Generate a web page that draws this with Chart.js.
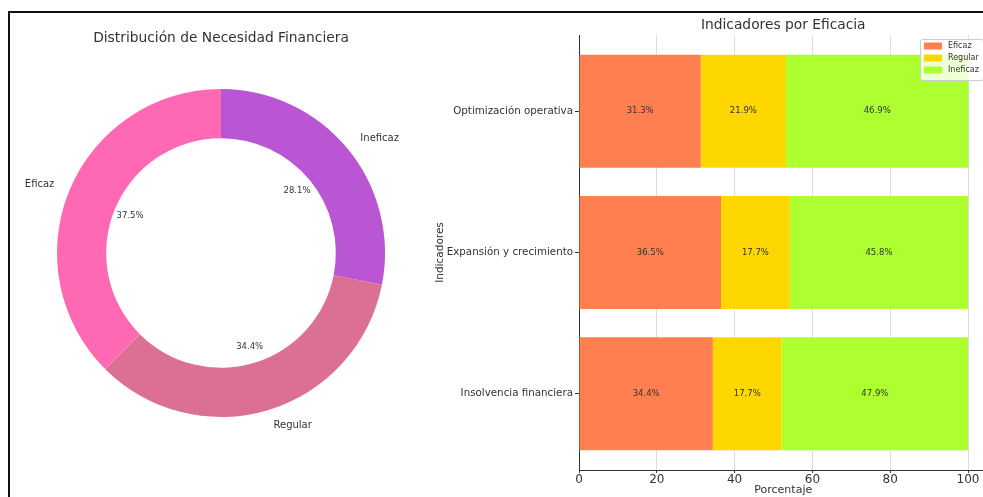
<!DOCTYPE html>
<html>
<head>
<meta charset="utf-8">
<script src="https://cdn.jsdelivr.net/npm/chart.js@4.4.1/dist/chart.umd.min.js"></script>
<style>
  html, body { margin: 0; padding: 0; background: #fff; }
  body { width: 983px; height: 497px; position: relative; overflow: hidden; }
  .frame { position: absolute; left: 8px; top: 11px; width: 1000px; height: 600px;
           border-top: 2px solid #111; border-left: 2px solid #111; }
  #donut { position: absolute; left: 0; top: 0; width: 420px; height: 497px; }
  /* the bar panel runs a few pixels past the right edge of the page */
  #bars { position: absolute; left: 420px; top: 0; width: 570px; height: 497px; }
</style>
</head>
<body>
<div class="frame"></div>
<canvas id="donut" width="420" height="497"></canvas>
<canvas id="bars" width="570" height="497"></canvas>

<script>
// ============================
// DATA
// ============================
const sliceLabels = ["Eficaz", "Regular", "Ineficaz"];
const sliceValues = [37.5, 34.4, 28.1];
const sliceColors = ["#FF69B4", "#DB7093", "#BA55D3"];

// bottom to top, as they sit on the axis
const indicators = ["Insolvencia financiera", "Expansión y crecimiento", "Optimización operativa"];
const eficaz = [34.4, 36.5, 31.3];
const regular = [17.7, 17.7, 21.9];
const ineficaz = [47.9, 45.8, 46.9];
const levelNames = ["Eficaz", "Regular", "Ineficaz"];
const levelColors = ["#FF7F50", "#FFD700", "#ADFF2F"];
const xTicks = [0, 20, 40, 60, 80, 100];

Chart.defaults.font.family = "'DejaVu Sans', sans-serif";
Chart.defaults.color = "#333";

// ============================
// DONUT
// ============================
// Chart.js sweeps clockwise, so reverse the order to get the slices running
// counter-clockwise from the top.
const donutLabels = sliceLabels.slice().reverse();
const donutValues = sliceValues.slice().reverse();
const donutColors = sliceColors.slice().reverse();

const donutText = {
  id: "donutText",
  afterDraw(chart) {
    const ctx = chart.ctx;
    const area = chart.chartArea;
    ctx.save();
    ctx.fillStyle = "#333";
    ctx.textBaseline = "middle";
    ctx.textAlign = "center";
    ctx.font = "13.8px 'DejaVu Sans'";
    ctx.fillText("Distribución de Necesidad Financiera", (area.left + area.right) / 2, 38);

    chart.getDatasetMeta(0).data.forEach((arc, i) => {
      const p = arc.getProps(["x", "y", "startAngle", "endAngle", "outerRadius"], true);
      const mid = (p.startAngle + p.endAngle) / 2;
      const c = Math.cos(mid), s = Math.sin(mid);
      ctx.font = "10px 'DejaVu Sans'";
      ctx.textAlign = c > 0 ? "left" : "right";
      ctx.fillText(donutLabels[i], p.x + c * p.outerRadius * 1.1, p.y + s * p.outerRadius * 1.1);
      ctx.font = "8.5px 'DejaVu Sans'";
      ctx.textAlign = "center";
      ctx.fillText(donutValues[i].toFixed(1) + "%", p.x + c * p.outerRadius * 0.6, p.y + s * p.outerRadius * 0.6);
    });
    ctx.restore();
  }
};

new Chart(document.getElementById("donut"), {
  type: "doughnut",
  data: {
    labels: donutLabels,
    datasets: [{
      data: donutValues,
      backgroundColor: donutColors,
      borderWidth: 0,
      hoverOffset: 0
    }]
  },
  options: {
    responsive: false,
    animation: false,
    cutout: "70%",
    layout: { padding: { left: 57, right: 35, top: 89, bottom: 80 } },
    plugins: { legend: { display: false }, tooltip: { enabled: false } }
  },
  plugins: [donutText]
});

// ============================
// STACKED BARS
// ============================
const barText = {
  id: "barText",
  afterDatasetsDraw(chart) {
    const ctx = chart.ctx;
    ctx.save();
    ctx.fillStyle = "#333";
    ctx.font = "8.5px 'DejaVu Sans'";
    ctx.textAlign = "center";
    ctx.textBaseline = "middle";
    chart.data.datasets.forEach((ds, di) => {
      chart.getDatasetMeta(di).data.forEach((bar, i) => {
        const p = bar.getProps(["x", "y", "base"], true);
        ctx.fillText(ds.data[i].x.toFixed(1) + "%", (p.x + p.base) / 2, p.y);
      });
    });
    ctx.restore();
  },
  afterDraw(chart) {
    const ctx = chart.ctx;
    const area = chart.chartArea;
    ctx.save();
    // title
    ctx.fillStyle = "#333";
    ctx.font = "13.8px 'DejaVu Sans'";
    ctx.textAlign = "center";
    ctx.textBaseline = "middle";
    ctx.fillText("Indicadores por Eficacia", (area.left + area.right) / 2, 25);

    // legend box in the upper right corner
    const lx = 500, ly = 39;
    ctx.fillStyle = "rgba(255,255,255,0.8)";
    ctx.strokeStyle = "#ccc";
    ctx.lineWidth = 1;
    ctx.beginPath();
    ctx.roundRect(lx + 0.5, ly + 0.5, 63, 41, 2);
    ctx.fill();
    ctx.stroke();
    ctx.font = "8px 'DejaVu Sans'";
    ctx.textAlign = "left";
    levelNames.forEach((name, i) => {
      const ry = ly + 7 + i * 12;
      ctx.fillStyle = levelColors[i];
      ctx.fillRect(lx + 4, ry - 3.5, 18, 7);
      ctx.fillStyle = "#333";
      ctx.fillText(name, lx + 28, ry);
    });
    ctx.restore();
  }
};

const series = [eficaz, regular, ineficaz];

new Chart(document.getElementById("bars"), {
  type: "bar",
  data: {
    datasets: series.map((vals, k) => ({
      label: levelNames[k],
      data: vals.map((v, i) => ({ x: v, y: i })),
      backgroundColor: levelColors[k],
      borderWidth: 0,
      barPercentage: 1,
      categoryPercentage: 0.8
    }))
  },
  options: {
    responsive: false,
    animation: false,
    indexAxis: "y",
    layout: { padding: { top: 35, right: 2.5, left: 0, bottom: 0 } },
    scales: {
      x: {
        type: "linear",
        stacked: true,
        min: 0,
        max: 105,
        afterBuildTicks: (axis) => { axis.ticks = xTicks.map(v => ({ value: v })); },
        afterFit: (axis) => { axis.height = 27; },
        grid: { color: "#ddd", tickColor: "#333", tickLength: 3 },
        border: { display: true, color: "#333", width: 1 },
        ticks: { font: { size: 12 }, padding: 0, color: "#333" },
        title: { display: true, text: "Porcentaje", font: { size: 11 }, padding: { top: 0, bottom: 0 } }
      },
      y: {
        type: "linear",
        stacked: true,
        offset: false,
        min: -0.54,
        max: 2.54,
        afterBuildTicks: (axis) => { axis.ticks = indicators.map((_, i) => ({ value: i })); },
        afterFit: (axis) => { axis.width = 159; },
        grid: { offset: false, drawOnChartArea: false, tickColor: "#333", tickLength: 4 },
        border: { display: true, color: "#333", width: 1 },
        ticks: {
          font: { size: 10.3 },
          padding: 2,
          autoSkip: false,
          color: "#333",
          callback: (v) => indicators[v]
        },
        title: { display: true, text: "Indicadores", font: { size: 10.5 }, padding: { top: 14, bottom: 0 } }
      }
    },
    plugins: { legend: { display: false }, tooltip: { enabled: false } }
  },
  plugins: [barText]
});
</script>
</body>
</html>
